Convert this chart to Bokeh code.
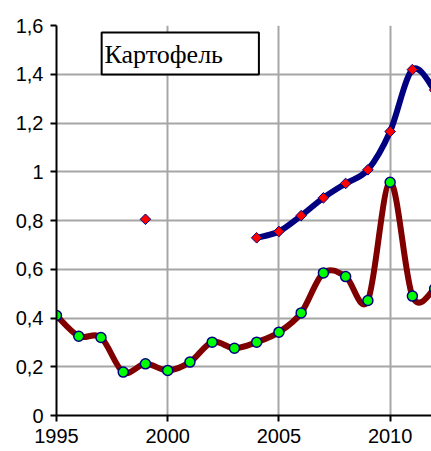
import math
from bokeh.plotting import figure
from bokeh.models import Range1d, FixedTicker, BoxAnnotation, Label, CustomJSTickFormatter, ColumnDataSource
from bokeh.embed import file_html
from bokeh.resources import INLINE

# ---- data ----
years = list(range(1995, 2013))
series_brown = [0.41, 0.325, 0.32, 0.178, 0.212, 0.185, 0.219, 0.301, 0.276,
                0.301, 0.342, 0.421, 0.585, 0.570, 0.472, 0.957, 0.490, 0.520]
series_blue = [None, None, None, None, 0.805, None, None, None, None,
               0.729, 0.755, 0.820, 0.893, 0.952, 1.008, 1.165, 1.419, 1.335]
x_ticks = [1995, 2000, 2005, 2010]
y_ticks = [0, 0.2, 0.4, 0.6, 0.8, 1, 1.2, 1.4, 1.6]
y_tick_labels = ["0", "0,2", "0,4", "0,6", "0,8", "1", "1,2", "1,4", "1,6"]
title_text = "Картофель"


def smooth_segments(xs, ys):
    runs, cur = [], []
    for x, y in zip(xs, ys):
        if y is None:
            if cur:
                runs.append(cur)
            cur = []
        else:
            cur.append((x, y))
    if cur:
        runs.append(cur)
    out = dict(x0=[], y0=[], x1=[], y1=[], cx0=[], cy0=[], cx1=[], cy1=[])
    for run in runs:
        n = len(run)
        for i in range(n - 1):
            p0 = run[i - 1] if i > 0 else run[i]
            p1 = run[i]
            p2 = run[i + 1]
            p3 = run[i + 2] if i + 2 < n else run[i + 1]
            out["x0"].append(p1[0]); out["y0"].append(p1[1])
            out["x1"].append(p2[0]); out["y1"].append(p2[1])
            out["cx0"].append(p1[0] + (p2[0] - p0[0]) / 6.0)
            out["cy0"].append(p1[1] + (p2[1] - p0[1]) / 6.0)
            out["cx1"].append(p2[0] - (p3[0] - p1[0]) / 6.0)
            out["cy1"].append(p2[1] - (p3[1] - p1[1]) / 6.0)
    return out


p = figure(width=431, height=451,
           x_range=Range1d(1995, 2011.86), y_range=Range1d(0, 1.6),
           output_backend="svg", toolbar_location=None,
           min_border_left=56, min_border_right=0,
           min_border_top=25, min_border_bottom=36)
p.outline_line_color = None
p.background_fill_color = "white"
p.border_fill_color = "white"

# axes
p.xaxis.ticker = FixedTicker(ticks=x_ticks)
p.yaxis.ticker = FixedTicker(ticks=y_ticks)
p.yaxis.formatter = CustomJSTickFormatter(
    args=dict(tv=y_ticks, tl=y_tick_labels),
    code="const i = tv.findIndex(t => Math.abs(t - tick) < 1e-9); return i >= 0 ? tl[i] : '';")
for ax in (p.xaxis[0], p.yaxis[0]):
    ax.axis_line_color = "black"
    ax.axis_line_width = 2
    ax.major_tick_line_color = "black"
    ax.major_tick_line_width = 2
    ax.major_tick_out = 6
    ax.major_tick_in = 0
    ax.minor_tick_out = 0
    ax.minor_tick_in = 0
    ax.major_label_text_font = "Liberation Sans"
    ax.major_label_text_font_size = "20px"
    ax.major_label_text_color = "black"
p.yaxis.major_label_standoff = 7
p.xaxis.major_label_standoff = 7

p.xgrid.ticker = FixedTicker(ticks=x_ticks)
p.ygrid.ticker = FixedTicker(ticks=y_ticks)
p.grid.grid_line_color = "#a6a6a6"
p.grid.grid_line_width = 2

# brown series
seg_b = ColumnDataSource(smooth_segments(years, series_brown))
p.bezier(x0="x0", y0="y0", x1="x1", y1="y1", cx0="cx0", cy0="cy0", cx1="cx1", cy1="cy1",
         source=seg_b, line_color="#800000", line_width=6, line_cap="round")

# blue series
seg_n = ColumnDataSource(smooth_segments(years, series_blue))
p.bezier(x0="x0", y0="y0", x1="x1", y1="y1", cx0="cx0", cy0="cy0", cx1="cx1", cy1="cy1",
         source=seg_n, line_color="#000080", line_width=6, line_cap="round")

p.scatter(years, series_brown, marker="circle", size=10,
          fill_color="#00ff00", line_color="#000080", line_width=1.5)

bx = [x for x, y in zip(years, series_blue) if y is not None]
by = [y for y in series_blue if y is not None]
p.scatter(bx, by, marker="square", angle=math.pi / 4, size=7.5,
          fill_color="#ff0000", line_color="#000080", line_width=1)

# title box
p.add_layout(BoxAnnotation(left=1997.03, right=2004.10, top=1.571, bottom=1.399,
                           fill_color="white", fill_alpha=1,
                           line_color="black", line_width=2, line_alpha=1))
p.add_layout(Label(x=1997.16, y=1.482, text=title_text,
                   text_font="Liberation Serif", text_font_size="26px",
                   text_color="black", text_baseline="alphabetic", text_align="left"))

open("out.html", "w").write(file_html(p, INLINE))
